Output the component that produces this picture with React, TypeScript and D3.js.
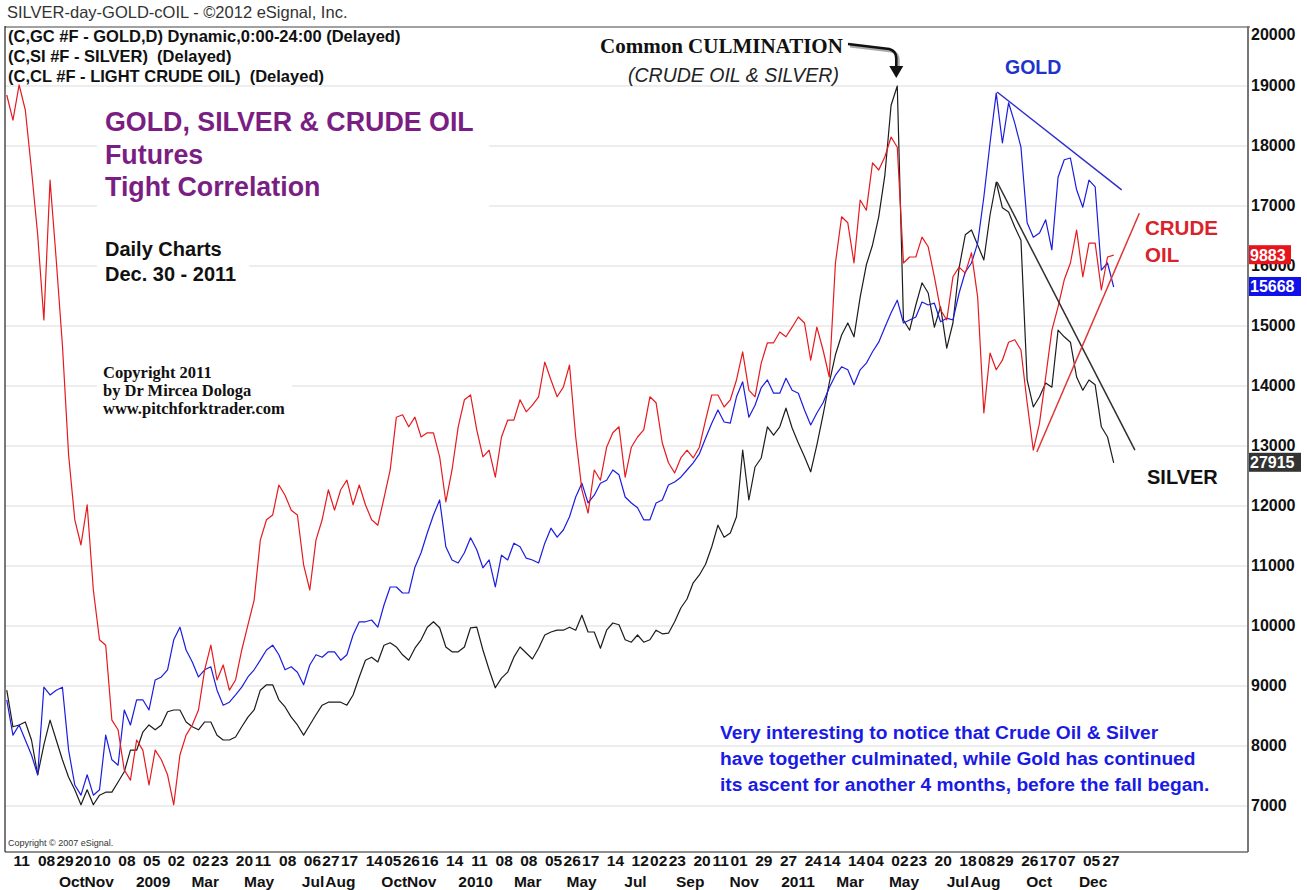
import React from 'react';
import * as d3 from 'd3';

// weekly closes (axis units), first week = 25 Jul 2008
const firstWeek = '2008-07-25';

const gold = [
  8770, 8180, 8350, 8100, 7850, 7520, 8980, 8850, 8930, 8980,
  7930, 7350, 7180, 7520, 7180, 7270, 8180, 7770, 7680, 8600,
  8350, 8770, 8770, 8600, 9100, 9150, 9270, 9770, 9980, 9600,
  9400, 9150, 9270, 9320, 8930, 8680, 8730, 8850, 8980, 9150,
  9270, 9430, 9600, 9680, 9520, 9270, 9320, 9230, 9020, 9350,
  9520, 9480, 9570, 9570, 9430, 9520, 9850, 10070, 10070, 10100,
  9980, 10350, 10650, 10650, 10550, 10550, 10980, 11220, 11550, 11850,
  12100, 11320, 11100, 11050, 11220, 11470, 11270, 10970, 11100, 10650,
  11180, 11100, 11380, 11320, 11130, 11100, 11050, 11380, 11630, 11480,
  11600, 11820, 12150, 12380, 12050, 12180, 12380, 12430, 12600, 12520,
  12150, 12050, 11970, 11770, 11770, 12050, 12100, 12350, 12400, 12480,
  12600, 12720, 12870, 13130, 13380, 13600, 13400, 13380, 13820, 14070,
  13480, 13680, 13970, 14100, 13880, 13880, 14130, 13930, 13880, 13600,
  13350, 13550, 13720, 13970, 14180, 14320, 14270, 14020, 14270, 14380,
  14570, 14730, 14980, 15220, 15430, 15050, 15100, 15150, 15400, 15350,
  15380, 15070, 15130, 15100, 15550, 15900, 16050, 16380, 17150, 18050,
  18880, 18050, 18720, 18380, 17980, 16720, 16480, 16550, 16770, 16270,
  17480, 17770, 17800, 17270, 16980, 17430, 17320, 15930, 16050, 15650,
];

const silver = [
  8930, 8320, 8350, 8400, 8100, 7520, 8020, 8430, 8100, 7770,
  7480, 7270, 7020, 7270, 7020, 7180, 7230, 7230, 7400, 7570,
  7930, 7930, 8230, 8350, 8270, 8350, 8570, 8600, 8600, 8400,
  8320, 8270, 8400, 8400, 8180, 8100, 8100, 8150, 8320, 8480,
  8600, 8930, 9020, 9020, 8770, 8650, 8480, 8350, 8180, 8350,
  8520, 8680, 8730, 8730, 8730, 8680, 8850, 9150, 9430, 9480,
  9400, 9680, 9720, 9650, 9520, 9430, 9630, 9770, 9980, 10070,
  9970, 9650, 9570, 9570, 9650, 9970, 9980, 9600, 9270, 8970,
  9130, 9230, 9480, 9650, 9550, 9450, 9630, 9850, 9900, 9930,
  9930, 9980, 9930, 10180, 9900, 9900, 9630, 9930, 10050, 10020,
  9770, 9730, 9850, 9730, 9770, 9930, 9870, 9880, 10070, 10300,
  10450, 10720, 10850, 11030, 11320, 11680, 11480, 11550, 11820, 12930,
  12100, 12650, 12800, 13320, 13180, 13320, 13630, 13300, 13050, 12820,
  12570, 13020, 13520, 14050, 14520, 14850, 15050, 14820, 15480, 16020,
  16350, 16820, 17520, 18680, 19000, 15100, 14930, 15350, 15720, 15550,
  14980, 15320, 14630, 15050, 15970, 16520, 16600, 16350, 16100, 16850,
  17400, 16970, 16900, 16650, 16430, 14100, 13650, 13820, 14050, 13980,
  14930, 14820, 14730, 14150, 13930, 14100, 14020, 13320, 13150, 12720,
];

const crude = [
  18850, 18430, 19020, 18600, 17600, 16520, 15100, 17430, 16100, 14680,
  12850, 11770, 11350, 12020, 10600, 9770, 9680, 8430, 8270, 7600,
  7430, 8100, 7930, 7350, 7930, 7770, 7520, 7020, 7850, 8180,
  8350, 8600, 9270, 9680, 9100, 9350, 8930, 9100, 9600, 10020,
  10430, 11430, 11770, 11850, 12350, 12180, 11930, 11850, 11020, 10600,
  11430, 11770, 12270, 11930, 12270, 12430, 12020, 12350, 12020, 11770,
  11680, 12130, 12600, 13480, 13520, 13320, 13480, 13150, 13220, 13220,
  12820, 12070, 12600, 13320, 13770, 13850, 13270, 12820, 12930, 12480,
  13150, 13430, 13430, 13770, 13570, 13680, 13820, 14400, 14100, 13820,
  13980, 14350, 13150, 12270, 11880, 12600, 12430, 12980, 13220, 13320,
  12480, 12980, 13150, 13270, 13820, 13720, 13050, 12720, 12550, 12800,
  12930, 12800, 12980, 13430, 13850, 13850, 13650, 13770, 14100, 14570,
  13930, 13820, 14380, 14720, 14720, 14900, 14820, 14980, 15150, 15050,
  14430, 14980, 14600, 14150, 16050, 16820, 16720, 16050, 17100, 16930,
  17720, 17600, 17820, 18150, 17980, 16050, 16150, 16150, 16480, 16320,
  15820, 15270, 15100, 15820, 15980, 15880, 16220, 15480, 13550, 14550,
  14270, 14430, 14730, 14770, 14600, 13720, 12930, 13380, 14150, 14930,
  15320, 15770, 16050, 16600, 15820, 16380, 16380, 15600, 16150, 16180,
];

const yTicks = [7000, 8000, 9000, 10000, 11000, 12000, 13000, 14000, 15000, 16000, 17000, 18000, 19000, 20000];

// week ticks (top row shows the day number)
const dayTicks = [
  '2008-08-11', '2008-09-08', '2008-09-29', '2008-10-20', '2008-11-10', '2008-12-08',
  '2009-01-05', '2009-02-02', '2009-03-02', '2009-03-23', '2009-04-20', '2009-05-11', '2009-06-08',
  '2009-07-06', '2009-07-27', '2009-08-17', '2009-09-14', '2009-10-05', '2009-10-26', '2009-11-16', '2009-12-14',
  '2010-01-11', '2010-02-08', '2010-03-08', '2010-04-05', '2010-04-26', '2010-05-17', '2010-06-14',
  '2010-07-12', '2010-08-02', '2010-08-23', '2010-09-20', '2010-10-11', '2010-11-01', '2010-11-29', '2010-12-27',
  '2011-01-24', '2011-02-14', '2011-03-14', '2011-04-04', '2011-05-02', '2011-05-23', '2011-06-20',
  '2011-07-18', '2011-08-08', '2011-08-29', '2011-09-26', '2011-10-17', '2011-11-07', '2011-12-05', '2011-12-27',
];

const monthDates = [
  '2008-10-01', '2008-11-01', '2009-01-01', '2009-03-01', '2009-05-01', '2009-07-01', '2009-08-01',
  '2009-10-01', '2009-11-01', '2010-01-01', '2010-03-01', '2010-05-01', '2010-07-01', '2010-09-01',
  '2010-11-01', '2011-01-01', '2011-03-01', '2011-05-01', '2011-07-01', '2011-08-01', '2011-10-01', '2011-12-01',
];
const monthNames = [
  'Oct', 'Nov', '2009', 'Mar', 'May', 'Jul', 'Aug', 'Oct', 'Nov', '2010', 'Mar', 'May', 'Jul', 'Sep',
  'Nov', '2011', 'Mar', 'May', 'Jul', 'Aug', 'Oct', 'Dec',
];

// last-price boxes on the right axis
const lastLabels = ['9883', '15668', '27915'];

// triangle trend lines [date, value]
const goldTrend: [string, number][] = [['2011-08-20', 18900], ['2012-01-08', 17270]];
const silverTrend: [string, number][] = [['2011-08-20', 17400], ['2012-01-23', 12930]];
const crudeTrend: [string, number][] = [['2011-10-04', 12900], ['2012-01-28', 16880]];

const parse = d3.timeParse('%Y-%m-%d');
const sans = '"Liberation Sans", Arial, sans-serif';
const serif = '"Liberation Serif", "Times New Roman", serif';

const RED = '#e61a1e';
const BLUE = '#1c1ce0';
const BLACK = '#1c1c1c';

export default function App() {
  const left = 5, right = 1248, top = 26, bottom = 852;

  const x = d3.scaleTime()
    .domain([parse('2008-07-23')!, parse('2012-05-30')!])
    .range([left, right]);
  const y = d3.scaleLinear().domain([6233, 20000]).range([bottom, top]);

  const start = parse(firstWeek)!;
  const weeks = gold.map((_, i) => d3.timeDay.offset(start, 7 * i));

  const line = d3.line<number>()
    .x((_, i) => x(weeks[i]))
    .y(d => y(d));

  const trend = (pts: [string, number][]) =>
    d3.line<[string, number]>().x(d => x(parse(d[0])!)).y(d => y(d[1]))(pts) || '';

  // arrow tip above the silver peak
  const peakIdx = silver.indexOf(d3.max(silver)!);
  const tipX = x(weeks[peakIdx]);
  const tipY = y(silver[peakIdx]) - 8;
  const arrow = `M848,44 L${tipX - 8},49 Q${tipX - 1},51 ${tipX - 1},58 L${tipX - 1},${tipY - 10}`;

  const boxes = [
    { v: crude[crude.length - 1], text: lastLabels[0], fill: '#e8141c', w: 42 },
    { v: gold[gold.length - 1], text: lastLabels[1], fill: '#1010e8', w: 52 },
    { v: silver[silver.length - 1], text: lastLabels[2], fill: '#333333', w: 52 },
  ];

  return (
    <svg width={1307} height={890} style={{ position: 'absolute', left: 0, top: 0, background: '#fff' }}
      fontFamily={sans}>
      <defs>
        <clipPath id="plot">
          <rect x={left} y={top} width={right - left} height={bottom - top} />
        </clipPath>
      </defs>
      <rect width={1307} height={890} fill="#fff" />

      {/* grid */}
      {yTicks.slice(0, -1).map(t => (
        <line key={t} x1={left} x2={right} y1={y(t)} y2={y(t)} stroke="#dcdcdc" strokeWidth={1} />
      ))}

      {/* white panels behind the notes */}
      <rect x={97} y={100} width={392} height={108} fill="#fff" />
      <rect x={97} y={232} width={152} height={62} fill="#fff" />
      <rect x={97} y={358} width={195} height={64} fill="#fff" />

      {/* series */}
      <g clipPath="url(#plot)" fill="none" strokeLinejoin="round">
        <path d={line(silver) || ''} stroke={BLACK} strokeWidth={1.2} />
        <path d={line(gold) || ''} stroke={BLUE} strokeWidth={1.2} />
        <path d={line(crude) || ''} stroke={RED} strokeWidth={1.2} />
        <path d={trend(goldTrend)} stroke="#3030c8" strokeWidth={1.5} />
        <path d={trend(silverTrend)} stroke="#303030" strokeWidth={1.5} />
        <path d={trend(crudeTrend)} stroke="#e03535" strokeWidth={1.5} />
      </g>

      {/* frame */}
      <line x1={left} x2={right + 2} y1={top + 1} y2={top + 1} stroke="#444" strokeWidth={1.2} />
      <line x1={left} x2={left} y1={top} y2={bottom} stroke="#222" strokeWidth={1.2} />
      <line x1={left} x2={right} y1={bottom} y2={bottom} stroke="#222" strokeWidth={1.2} />
      <line x1={right} x2={right} y1={top} y2={bottom} stroke="#777" strokeWidth={2} />

      {/* right axis */}
      {yTicks.map(t => (
        <text key={t} x={right + 3} y={Math.max(y(t), 34) + 5.5} fontSize={16} fontWeight="bold" fill="#111">{t}</text>
      ))}
      {boxes.map(b => (
        <g key={b.text}>
          <rect x={right + 1} y={y(b.v) - 10} width={b.w} height={19} fill={b.fill} />
          <text x={right + 2} y={y(b.v) + 5.5} fontSize={16} fontWeight="bold" fill="#fff">{b.text}</text>
        </g>
      ))}

      {/* bottom axis */}
      {dayTicks.map(d => (
        <text key={d} x={x(parse(d)!)} y={866} textAnchor="middle" fontSize={15.5} fontWeight="bold" fill="#111">
          {d.slice(8)}
        </text>
      ))}
      {monthDates.map((d, i) => (
        <text key={d} x={x(parse(d)!) + 5} y={887} textAnchor="middle" fontSize={15.5} fontWeight="bold" fill="#111">
          {monthNames[i]}
        </text>
      ))}

      {/* header */}
      <text x={7} y={18} fontSize={16.5} fill="#333">SILVER-day-GOLD-cOIL - ©2012 eSignal, Inc.</text>
      <text x={8} y={42} fontSize={16.5} fontWeight="bold" fill="#111">(C,GC #F - GOLD,D) Dynamic,0:00-24:00 (Delayed)</text>
      <text x={8} y={62} fontSize={16.5} fontWeight="bold" fill="#111" xmlSpace="preserve">(C,SI #F - SILVER)  (Delayed)</text>
      <text x={8} y={82} fontSize={16.5} fontWeight="bold" fill="#111" xmlSpace="preserve">(C,CL #F - LIGHT CRUDE OIL)  (Delayed)</text>

      {/* notes */}
      <g fill="#7b1e83" fontSize={26.8} fontWeight="bold">
        <text x={105} y={131}>GOLD, SILVER &amp; CRUDE OIL</text>
        <text x={105} y={164}>Futures</text>
        <text x={105} y={196}>Tight Correlation</text>
      </g>
      <g fill="#111" fontSize={20} fontWeight="bold">
        <text x={105} y={256}>Daily Charts</text>
        <text x={105} y={281}>Dec. 30 - 2011</text>
      </g>
      <g fill="#111" fontSize={16.5} fontWeight="bold" fontFamily={serif}>
        <text x={103} y={378}>Copyright 2011</text>
        <text x={103} y={396}>by Dr Mircea Dologa</text>
        <text x={103} y={414}>www.pitchforktrader.com</text>
      </g>

      <text x={600} y={53} fontSize={21} fontWeight="bold" fontFamily={serif} fill="#111">Common CULMINATION</text>
      <text x={628} y={82} fontSize={19.5} fontStyle="italic" fill="#222">(CRUDE OIL &amp; SILVER)</text>
      <g fill="none" strokeLinejoin="round">
        <path d={arrow} transform="translate(2,2)" stroke="#aaa" strokeWidth={3} />
        <path d={arrow} stroke="#111" strokeWidth={2.6} />
      </g>
      <path d={`M${tipX - 8},${tipY - 12} L${tipX + 6},${tipY - 12} L${tipX - 1},${tipY} Z`} fill="#111" />

      <text x={1005} y={74} fontSize={19.5} fontWeight="bold" fill="#2233cc">GOLD</text>
      <text x={1145} y={235} fontSize={20.5} fontWeight="bold" fill="#d8232a">CRUDE</text>
      <text x={1145} y={262} fontSize={20.5} fontWeight="bold" fill="#d8232a">OIL</text>
      <text x={1147} y={484} fontSize={20} fontWeight="bold" fill="#111">SILVER</text>

      <g fill="#1a1ae6" fontSize={19.2} fontWeight="bold">
        <text x={720} y={739}>Very interesting to notice that Crude Oil &amp; Silver</text>
        <text x={720} y={765}>have together culminated, while Gold has continued</text>
        <text x={720} y={791}>its ascent for another 4 months, before the fall began.</text>
      </g>

      <text x={8} y={846} fontSize={9} fill="#333">Copyright © 2007 eSignal.</text>
    </svg>
  );
}
